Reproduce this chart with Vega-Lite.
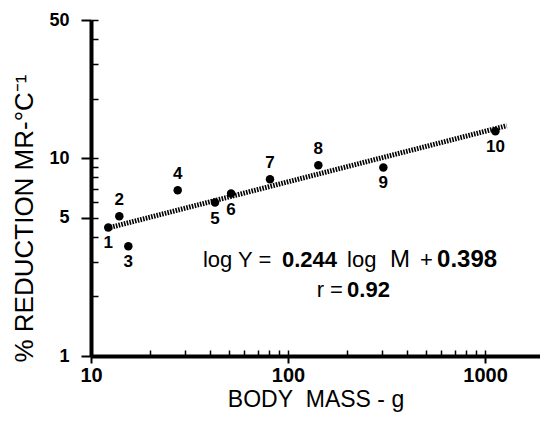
{
  "$schema": "https://vega.github.io/schema/vega-lite/v6.json",
  "width": 449,
  "height": 336,
  "autosize": "none",
  "padding": {"left": 91, "top": 20, "right": 0, "bottom": 66},
  "background": "white",
  "config": {
    "view": {"stroke": null},
    "font": "Liberation Sans",
    "axis": {"domainColor": "black", "tickColor": "black", "labelColor": "black", "titleColor": "black", "grid": false, "labelFlush": false}
  },
  "datasets": {
    "points": [
      {"id": "1", "mass": 12.24, "reduction": 4.47},
      {"id": "2", "mass": 13.92, "reduction": 5.09},
      {"id": "3", "mass": 15.47, "reduction": 3.59},
      {"id": "4", "mass": 27.55, "reduction": 6.89},
      {"id": "5", "mass": 42.6, "reduction": 5.97},
      {"id": "6", "mass": 51.4, "reduction": 6.63},
      {"id": "7", "mass": 81.0, "reduction": 7.83},
      {"id": "8", "mass": 142.5, "reduction": 9.22},
      {"id": "9", "mass": 304.6, "reduction": 8.98},
      {"id": "10", "mass": 1128, "reduction": 13.7}
    ],
    "fit": [
      {"mass": 11.78, "reduction": 4.4},
      {"mass": 1288, "reduction": 14.6}
    ],
    "one": [{}]
  },
  "resolve": {"axis": {"x": "independent", "y": "independent"}},
  "layer": [
    {
      "data": {"name": "fit"},
      "mark": {"type": "line", "stroke": "black", "strokeWidth": 5, "strokeDash": [1.6, 1.2]},
      "encoding": {
        "x": {"field": "mass", "type": "quantitative",
          "scale": {"type": "log", "domain": [10, 1900], "nice": false},
          "axis": {"orient": "bottom", "values": [20, 30, 40, 50, 60, 70, 80, 90, 100, 200, 300, 400, 500, 600, 700, 800, 900, 1000],
            "tickSize": -6, "tickWidth": 1.5, "labels": false, "domain": false, "title": null}},
        "y": {"field": "reduction", "type": "quantitative",
          "scale": {"type": "log", "domain": [1, 50], "nice": false},
          "axis": {"orient": "left", "values": [2, 3, 4, 5, 6, 7, 8, 9, 10, 20, 30, 40, 50],
            "tickSize": -7, "tickWidth": 1.5, "labels": false, "domain": false, "title": null}}
      }
    },
    {
      "data": {"name": "points"},
      "mark": {"type": "circle", "size": 72, "opacity": 1, "color": "black"},
      "encoding": {
        "x": {"field": "mass", "type": "quantitative",
          "scale": {"type": "log", "domain": [10, 1900], "nice": false},
          "axis": {"orient": "bottom", "values": [10, 100, 1000], "format": "d",
            "tickSize": 7, "tickWidth": 2, "domainWidth": 4,
            "labelFontSize": 20, "labelFontWeight": "bold", "labelPadding": 2,
            "title": "BODY\u00a0\u00a0MASS\u00a0-\u00a0g", "titleFontSize": 23, "titleFontWeight": "normal", "titlePadding": 3}},
        "y": {"field": "reduction", "type": "quantitative",
          "scale": {"type": "log", "domain": [1, 50], "nice": false},
          "axis": {"orient": "left", "values": [1, 5, 10, 50], "format": "d",
            "tickSize": 10, "tickWidth": 2, "domainWidth": 4,
            "labelFontSize": 18, "labelFontWeight": "bold", "labelPadding": 12,
            "title": "% REDUCTION MR-°C⁻¹", "titleFontSize": 26, "titleFontWeight": "normal",
            "titleX": -67, "titleY": 198, "titleBaseline": "middle", "titleAlign": "center"}}
      }
    },
    {
      "data": {"name": "points"},
      "transform": [{"filter": "indexof(['2','4','7','8'], datum.id) >= 0"}],
      "mark": {"type": "text", "fontSize": 17, "fontWeight": "bold", "dy": -16, "baseline": "middle", "color": "black"},
      "encoding": {
        "x": {"field": "mass", "type": "quantitative", "scale": {"type": "log", "domain": [10, 1900], "nice": false}, "axis": null},
        "y": {"field": "reduction", "type": "quantitative", "scale": {"type": "log", "domain": [1, 50], "nice": false}, "axis": null},
        "text": {"field": "id"}
      }
    },
    {
      "data": {"name": "points"},
      "transform": [{"filter": "indexof(['2','4','7','8'], datum.id) < 0"}],
      "mark": {"type": "text", "fontSize": 17, "fontWeight": "bold", "dy": 16, "baseline": "middle", "color": "black"},
      "encoding": {
        "x": {"field": "mass", "type": "quantitative", "scale": {"type": "log", "domain": [10, 1900], "nice": false}, "axis": null},
        "y": {"field": "reduction", "type": "quantitative", "scale": {"type": "log", "domain": [1, 50], "nice": false}, "axis": null},
        "text": {"field": "id"}
      }
    },
    {
      "data": {"name": "one"},
      "mark": {"type": "text", "align": "left", "baseline": "alphabetic", "fontSize": 22, "color": "black"},
      "encoding": {"x": {"datum": 37.0, "axis": null}, "y": {"datum": 2.815, "axis": null}, "text": {"value": "log Y ="}}
    },
    {
      "data": {"name": "one"},
      "mark": {"type": "text", "align": "left", "baseline": "alphabetic", "fontSize": 22, "fontWeight": "bold", "color": "black"},
      "encoding": {"x": {"datum": 93.2, "axis": null}, "y": {"datum": 2.815, "axis": null}, "text": {"value": "0.244"}}
    },
    {
      "data": {"name": "one"},
      "mark": {"type": "text", "align": "left", "baseline": "alphabetic", "fontSize": 22, "color": "black"},
      "encoding": {"x": {"datum": 199.3, "axis": null}, "y": {"datum": 2.815, "axis": null}, "text": {"value": "log"}}
    },
    {
      "data": {"name": "one"},
      "mark": {"type": "text", "align": "left", "baseline": "alphabetic", "fontSize": 24, "color": "black"},
      "encoding": {"x": {"datum": 329.6, "axis": null}, "y": {"datum": 2.815, "axis": null}, "text": {"value": "M"}}
    },
    {
      "data": {"name": "one"},
      "mark": {"type": "text", "align": "left", "baseline": "alphabetic", "fontSize": 22, "color": "black"},
      "encoding": {"x": {"datum": 468, "axis": null}, "y": {"datum": 2.815, "axis": null}, "text": {"value": "+"}}
    },
    {
      "data": {"name": "one"},
      "mark": {"type": "text", "align": "left", "baseline": "alphabetic", "fontSize": 24, "fontWeight": "bold", "color": "black"},
      "encoding": {"x": {"datum": 570.6, "axis": null}, "y": {"datum": 2.815, "axis": null}, "text": {"value": "0.398"}}
    },
    {
      "data": {"name": "one"},
      "mark": {"type": "text", "align": "right", "baseline": "alphabetic", "fontSize": 22, "color": "black"},
      "encoding": {"x": {"datum": 190, "axis": null}, "y": {"datum": 1.986, "axis": null}, "text": {"value": "r ="}}
    },
    {
      "data": {"name": "one"},
      "mark": {"type": "text", "align": "left", "baseline": "alphabetic", "fontSize": 22, "fontWeight": "bold", "color": "black"},
      "encoding": {"x": {"datum": 199.3, "axis": null}, "y": {"datum": 1.986, "axis": null}, "text": {"value": "0.92"}}
    }
  ]
}
